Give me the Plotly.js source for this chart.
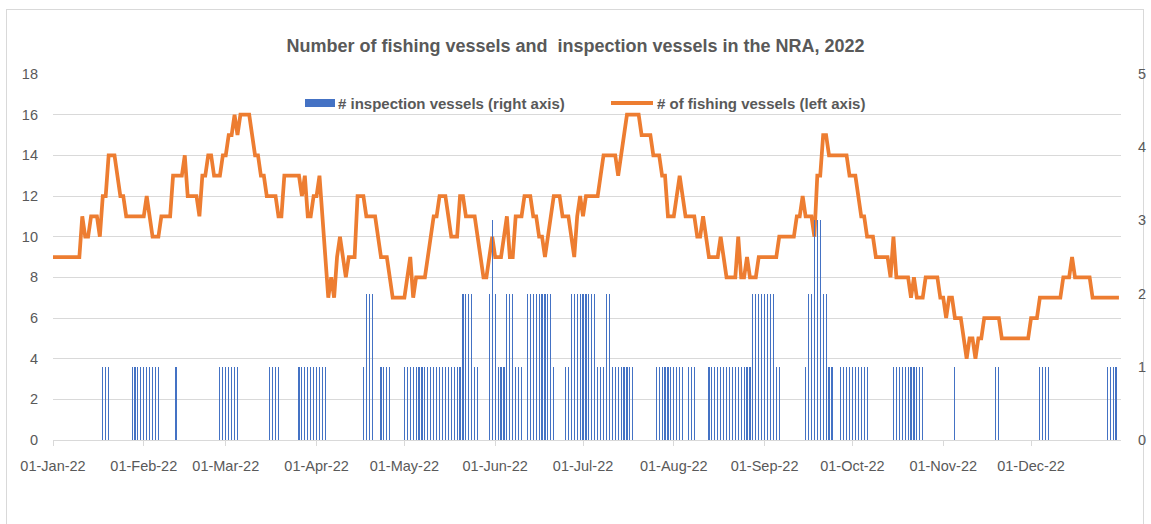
<!DOCTYPE html>
<html><head><meta charset="utf-8">
<script src="https://cdn.plot.ly/plotly-3.0.1.min.js"></script>
<style>
body{margin:0;background:#fff;}
#frame{position:absolute;left:6px;top:9px;width:1138px;height:530px;border:1px solid #d9d9d9;box-sizing:border-box;}
#chart{position:absolute;left:0;top:0;width:1151px;height:524px;}
</style>
</head><body><div id="frame"></div><div id="chart"></div>
<script>
// Daily values, 2022-01-01 .. 2022-12-31 (365 days)
const fishingVessels = [
 9,9,9,9,9,9,9,9,9,9,
 11,10,10,11,11,11,10,12,12,14,
 14,14,13,12,12,11,11,11,11,11,
 11,11,12,11,10,10,10,11,11,11,
 11,13,13,13,13,14,12,12,12,12,
 11,13,13,14,14,13,13,13,14,14,
 15,15,16,15,16,16,16,16,15,14,
 14,13,13,12,12,12,12,11,11,13,
 13,13,13,13,13,12,13,11,11,12,
 12,13,11,9,7,8,7,9,10,9,
 8,9,9,9,12,12,12,11,11,11,
 11,10,9,9,9,8,7,7,7,7,
 7,8,9,7,8,8,8,8,9,10,
 11,11,12,12,12,11,10,10,10,12,
 12,11,11,11,11,10,9,8,8,9,
 10,9,9,9,10,11,9,9,11,11,
 11,12,12,12,11,11,10,10,9,10,
 11,12,12,12,11,11,11,10,9,11,
 12,11,12,12,12,12,12,13,14,14,
 14,14,14,13,14,15,16,16,16,16,
 16,15,15,15,15,14,14,14,13,13,
 11,11,11,12,13,12,11,11,11,11,
 10,10,11,10,9,9,9,9,10,9,
 8,8,8,8,10,8,8,9,8,8,
 8,9,9,9,9,9,9,9,10,10,
 10,10,10,10,11,11,12,11,11,11,
 10,13,13,15,15,14,14,14,14,14,
 14,14,13,13,13,12,11,11,10,10,
 10,9,9,9,9,9,8,10,8,8,
 8,8,8,7,8,7,7,7,8,8,
 8,8,8,7,7,6,7,7,6,6,
 6,5,4,5,5,4,5,5,6,6,
 6,6,6,6,5,5,5,5,5,5,
 5,5,5,5,6,6,6,7,7,7,
 7,7,7,7,7,8,8,8,9,8,
 8,8,8,8,8,7,7,7,7,7,
 7,7,7,7,7
];
const inspectionVessels = [
 0,0,0,0,0,0,0,0,0,0,
 0,0,0,0,0,0,0,1,1,1,
 0,0,0,0,0,0,0,1,1,1,
 1,1,1,1,1,1,1,0,0,0,
 0,0,1,0,0,0,0,0,0,0,
 0,0,0,0,0,0,0,1,1,1,
 1,1,1,1,0,0,0,0,0,0,
 0,0,0,0,1,1,1,1,0,0,
 0,0,0,0,1,1,1,1,1,1,
 1,1,1,1,0,0,0,0,0,0,
 0,0,0,0,0,0,1,2,2,2,
 0,0,1,1,1,1,0,0,0,0,
 1,1,1,1,1,1,1,1,1,1,
 1,1,1,1,1,1,1,1,1,1,
 2,2,2,2,1,1,0,0,0,2,
 3,2,1,1,1,2,2,2,1,1,
 1,0,2,2,2,2,2,2,2,2,
 2,1,0,0,0,1,1,2,2,2,
 2,2,2,2,2,2,1,1,1,2,
 2,1,1,1,1,1,1,1,1,0,
 0,0,0,0,0,0,1,1,1,1,
 1,1,1,1,1,1,0,1,1,1,
 0,0,0,0,1,1,1,1,1,1,
 1,1,1,1,1,1,1,1,1,2,
 2,2,2,2,2,2,2,1,1,0,
 0,0,0,0,0,0,0,1,2,2,
 3,3,3,2,2,1,1,0,0,1,
 1,1,1,1,1,1,1,1,1,0,
 0,0,0,0,0,0,0,1,1,1,
 1,1,1,1,1,1,1,1,0,0,
 0,0,0,0,0,0,0,0,1,0,
 0,0,0,0,0,0,0,0,0,0,
 0,0,1,1,0,0,0,0,0,0,
 0,0,0,0,0,0,0,1,1,1,
 1,0,0,0,0,0,0,0,0,0,
 0,0,0,0,0,0,0,0,0,0,
 1,1,1,1,0
];
const tickDates = ['2022-01-01','2022-02-01','2022-03-01','2022-04-01','2022-05-01','2022-06-01',
 '2022-07-01','2022-08-01','2022-09-01','2022-10-01','2022-11-01','2022-12-01'];
const tickLabels = ['01-Jan-22','01-Feb-22','01-Mar-22','01-Apr-22','01-May-22','01-Jun-22',
 '01-Jul-22','01-Aug-22','01-Sep-22','01-Oct-22','01-Nov-22','01-Dec-22'];
const seriesNames = ['# inspection vessels (right axis)', '# of fishing vessels (left axis)'];
const chartTitle = 'Number of fishing vessels and\u00a0 inspection vessels in the NRA, 2022';

// date categories
const dates = [];
const start = Date.UTC(2022,0,1);
for (let i = 0; i < fishingVessels.length; i++) {
  const d = new Date(start + i*86400000);
  dates.push(d.toISOString().slice(0,10));
}

const BLUE = '#4472C4', ORANGE = '#ED7D31', GRID = '#d9d9d9', TXT = '#595959';
const W = 1151, H = 524, L = 53, R = 30, T = 74, B = 84;
const pw = W - L - R, ph = H - T - B;
const px = x => (x - L) / pw;
const py = y => (H - B - y) / ph;

const traces = [
  {type:'bar', x:dates, y:inspectionVessels, yaxis:'y2', name:seriesNames[0],
   marker:{color:BLUE, line:{width:0}}, width:0.38*86400000, showlegend:false, hoverinfo:'x+y'},
  {type:'scatter', mode:'lines', x:dates, y:fishingVessels, name:seriesNames[1],
   line:{color:ORANGE, width:3.75, shape:'linear'}, showlegend:false}
];

const layout = {
  width:W, height:H,
  margin:{l:L, r:R, t:T, b:B, pad:0},
  paper_bgcolor:'rgba(0,0,0,0)', plot_bgcolor:'rgba(0,0,0,0)',
  font:{family:'"Liberation Sans", Arial, sans-serif', size:14.5, color:TXT},
  title:{text:chartTitle, font:{size:18, color:TXT, weight:'bold'},
         x:0.5, xanchor:'center', xref:'container', y:1-46/H, yref:'container', yanchor:'middle'},
  xaxis:{type:'date', range:['2022-01-01','2022-12-31 17:00'], tickvals:tickDates, ticktext:tickLabels,
         ticks:'outside', ticklen:5, tickcolor:GRID, showline:true, linecolor:GRID, linewidth:1,
         showgrid:false, zeroline:false, ticklabelstandoff:8, tickfont:{size:14.5, color:TXT}},
  yaxis:{range:[0,18], tick0:0, dtick:2, showgrid:true, gridcolor:GRID, gridwidth:1, zeroline:false,
         showline:false, ticks:'', ticklabelstandoff:14, tickfont:{size:14.5, color:TXT}, fixedrange:true},
  yaxis2:{range:[0,5], tick0:0, dtick:1, overlaying:'y', side:'right', showgrid:false, zeroline:false,
          showline:false, ticks:'', ticklabelstandoff:16, tickfont:{size:14.5, color:TXT}},
  bargap:0,
  shapes:[
    {type:'rect', xref:'paper', yref:'paper', x0:px(305), x1:px(335), y0:py(107), y1:py(99),
     fillcolor:BLUE, line:{width:0}},
    {type:'line', xref:'paper', yref:'paper', x0:px(611), x1:px(653), y0:py(103), y1:py(103),
     line:{color:ORANGE, width:4}}
  ],
  annotations:[
    {xref:'paper', yref:'paper', x:px(336), y:py(103), xanchor:'left', yanchor:'middle', showarrow:false,
     text:seriesNames[0], font:{size:15, color:TXT, weight:'bold'}},
    {xref:'paper', yref:'paper', x:px(655), y:py(103), xanchor:'left', yanchor:'middle', showarrow:false,
     text:seriesNames[1], font:{size:15, color:TXT, weight:'bold'}}
  ]
};

Plotly.newPlot('chart', traces, layout, {displayModeBar:false, staticPlot:true});
</script></body></html>
